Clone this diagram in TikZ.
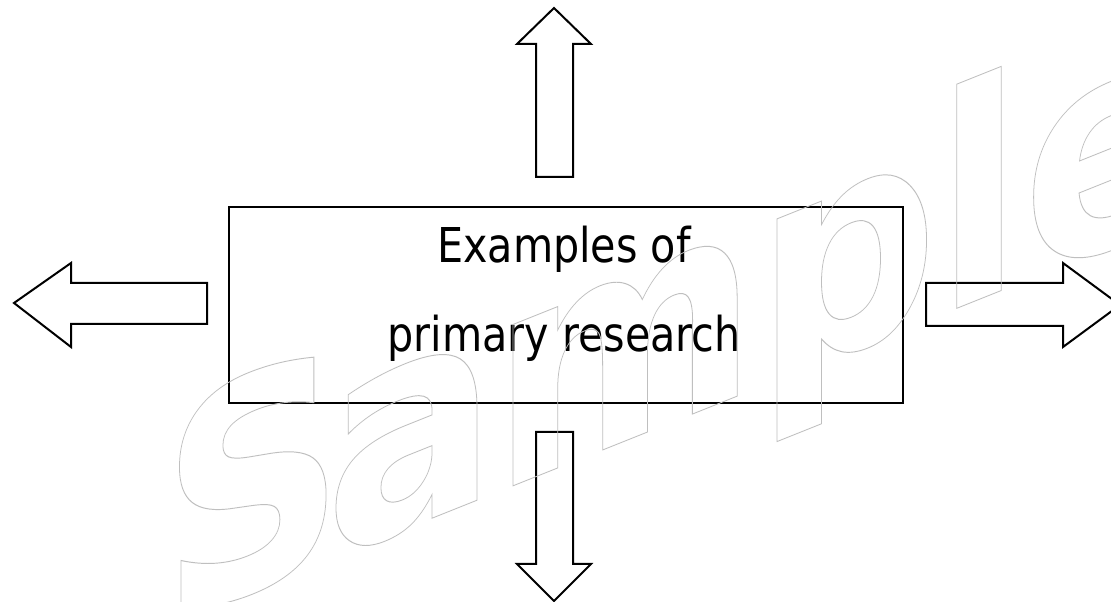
\documentclass[tikz,border=0pt]{standalone}
\usepackage{fontspec}
\newfontfamily\boxfont[FakeStretch=0.86]{DejaVu Sans}
\newfontfamily\wmfont{DejaVu Sans}
\tikzset{
  blockarrow/.style={draw=black, line width=2pt, fill=white, line join=miter},
  boxstyle/.style={draw=black, line width=2pt, fill=white, minimum width=674pt, minimum height=196pt, inner sep=0pt},
  boxtext/.style={font=\boxfont\fontsize{48}{48}\selectfont, inner sep=0pt, anchor=base},
  watermark/.style={inner sep=0pt, anchor=base west, yslant=0.40, xscale=0.864,
    font=\wmfont\bfseries\fontsize{295}{295}\selectfont},
}
\newcommand\outlinetext[1]{\special{pdf:literal direct 1 Tr 0.9 w 0.75 G}#1\special{pdf:literal direct 0 Tr 0 G}}
\begin{document}
\begin{tikzpicture}[x=1pt,y=1pt]
\fill[white] (0,0) rectangle (1111,602);
\useasboundingbox (0,0) rectangle (1111,602);
\clip (0,0) rectangle (1111,602);
% central box
\node[boxstyle] (box) at (566,297) {};
\node[boxtext] (line1) at (564,339) {Examples of};
\node[boxtext] (line2) at (564,250) {primary research};
% up arrow
\draw[blockarrow] (536,425) -- (536,558) -- (517,558) -- (554,594) -- (591,558) -- (573,558) -- (573,425) -- cycle;
% left arrow
\draw[blockarrow] (207,319) -- (71,319) -- (71,339) -- (14,299) -- (71,255) -- (71,278) -- (207,278) -- cycle;
% right arrow
\draw[blockarrow] (926,319) -- (1063,319) -- (1063,339) -- (1120,297) -- (1063,255) -- (1063,276) -- (926,276) -- cycle;
% down arrow
\draw[blockarrow] (536,170) -- (536,38) -- (517,38) -- (554,1) -- (591,38) -- (573,38) -- (573,170) -- cycle;
% watermark
\begin{scope}[shift={(161,-24.6)}]
\node[watermark] (wm) at (0,0) {\outlinetext{S\kern-23pt a\kern-6pt m\kern-2pt p\kern-3.5pt le}};
\end{scope}
\end{tikzpicture}
\end{document}
